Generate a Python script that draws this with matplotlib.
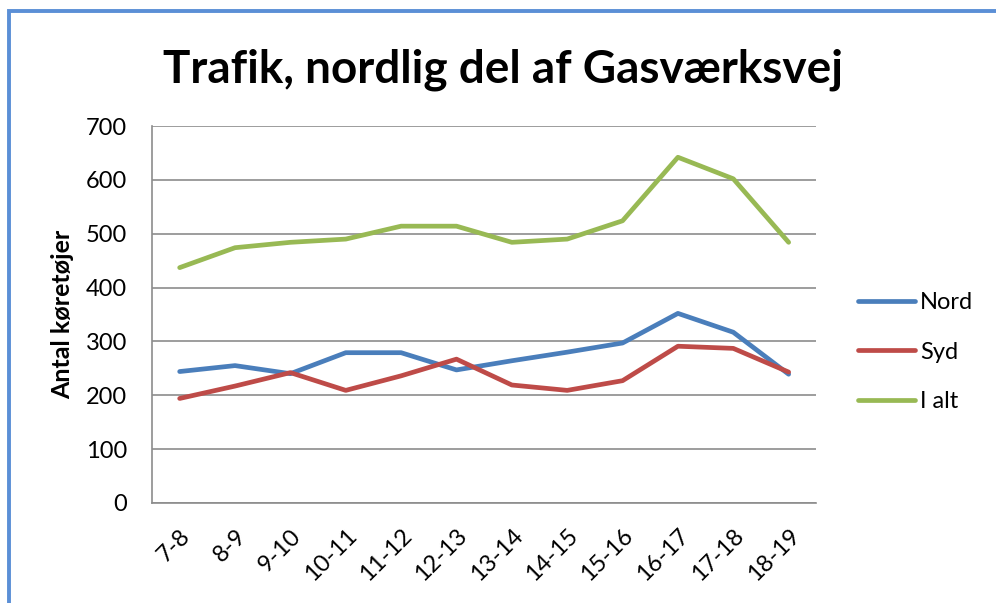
import matplotlib.pyplot as plt
from matplotlib.patches import Rectangle

plt.rcParams['font.family'] = ['Lato', 'DejaVu Sans']

timer = ['7-8', '8-9', '9-10', '10-11', '11-12', '12-13', '13-14', '14-15',
         '15-16', '16-17', '17-18', '18-19']
nord = [244, 255, 240, 279, 279, 247, 264, 280, 297, 352, 317, 239]
syd = [194, 217, 242, 209, 236, 267, 219, 209, 227, 291, 287, 243]
i_alt = [437, 474, 484, 490, 514, 514, 484, 490, 524, 642, 602, 484]

fig = plt.figure(figsize=(9.96, 6.03), dpi=100)
ax = fig.add_axes([0.1526, 0.166, 0.667, 0.625])

x = range(len(timer))
ax.plot(x, nord, color='#4A7EBB', lw=3.4, label='Nord', solid_capstyle='round')
ax.plot(x, syd, color='#BE4B48', lw=3.4, label='Syd', solid_capstyle='round')
ax.plot(x, i_alt, color='#98B954', lw=3.4, label='I alt', solid_capstyle='round')

ax.set_xlim(-0.5, len(timer) - 0.5)
ax.set_ylim(0, 700)
ax.set_yticks(range(0, 701, 100))
ax.set_xticks(list(x))
ax.set_xticklabels(timer, rotation=45, ha='right', rotation_mode='anchor')
ax.tick_params(length=0, labelsize=17, colors='#000000')
ax.tick_params(axis='y', pad=18)
ax.tick_params(axis='x', pad=16)
ax.grid(axis='y', color='#8c8c8c', lw=1.2)
ax.set_axisbelow(True)
for s in ['top', 'right']:
    ax.spines[s].set_visible(False)
for s in ['left', 'bottom']:
    ax.spines[s].set_color('#8c8c8c')
    ax.spines[s].set_linewidth(1.2)

ax.set_ylabel('Antal køretøjer', fontsize=18, fontweight='bold', labelpad=8)
fig.text(0.505, 0.864, 'Trafik, nordlig del af Gasværksvej', ha='center', va='baseline',
         fontsize=33, fontweight='bold')

leg = ax.legend(loc='center left', bbox_to_anchor=(0.861, 0.416), bbox_transform=fig.transFigure,
                frameon=False, fontsize=17, handlelength=2.45, handletextpad=0.2,
                labelspacing=1.2, borderpad=0, borderaxespad=0)

# blå ramme
fig.patches.append(Rectangle((0.009, -0.1), 1.2, 1.081, transform=fig.transFigure,
                             fill=False, edgecolor='#5B8FD6', lw=2.8))

fig.savefig('out.png', dpi=100)
